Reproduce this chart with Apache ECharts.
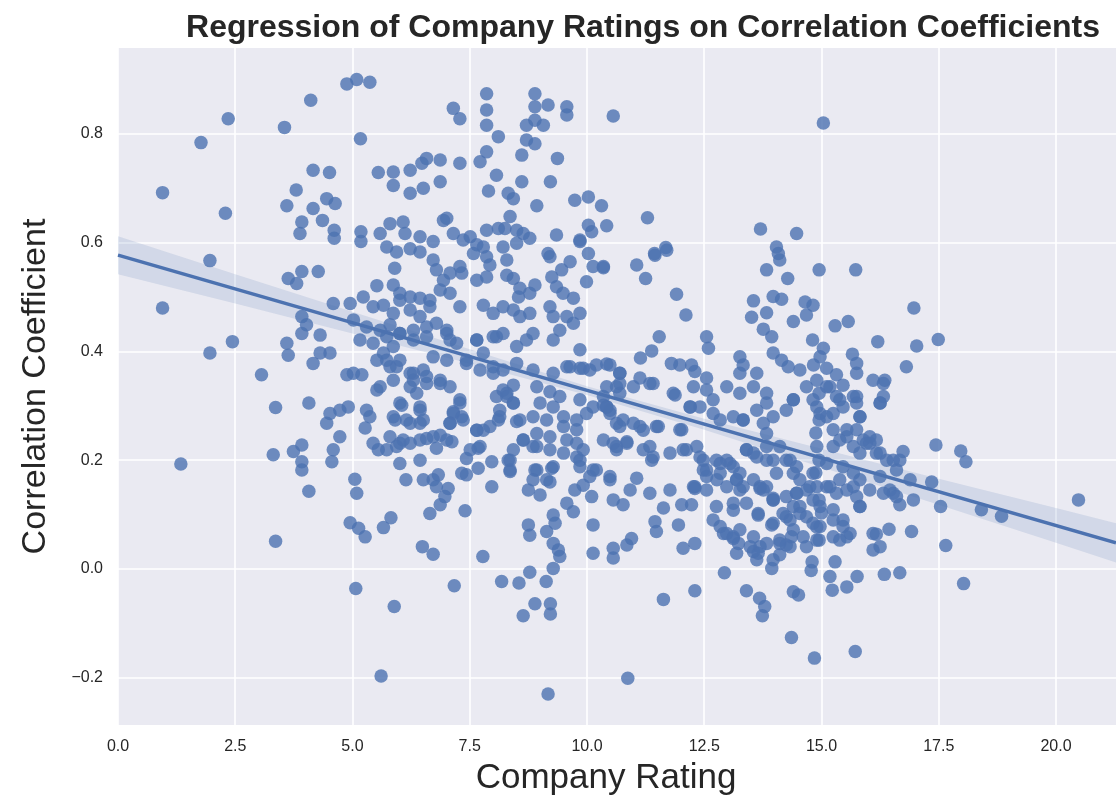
<!DOCTYPE html>
<html>
<head>
<meta charset="utf-8">
<script src="https://cdn.jsdelivr.net/npm/echarts@6/dist/echarts.min.js"></script>
<style>
html,body{margin:0;padding:0;background:#fff;}
#chart{width:1116px;height:801px;}
</style>
</head>
<body>
<div id="chart"></div>
<script>
// ---- Data (Company Rating, Correlation Coefficient) ----
const pointsSparseLeft = [[0.95,0.692],[0.95,0.480],[1.77,0.784],[2.35,0.828],[2.29,0.654],[1.96,0.567],[2.44,0.418],[1.96,0.397],[3.06,0.357],[3.55,0.812],[4.11,0.862],[4.88,0.892],[5.09,0.900],[5.37,0.895],[5.17,0.791],[4.16,0.733],[4.51,0.729],[3.80,0.697],[3.60,0.668],[4.16,0.663],[4.45,0.681],[4.63,0.672],[3.92,0.638],[3.88,0.617],[4.36,0.641],[4.61,0.623],[4.61,0.608],[5.18,0.620],[5.18,0.602],[3.63,0.534],[3.81,0.525],[3.92,0.547],[4.27,0.547],[3.92,0.464],[4.02,0.449],[3.92,0.433],[4.31,0.430],[3.60,0.415],[3.63,0.393],[4.16,0.378],[4.31,0.397],[4.52,0.397],[4.59,0.488],[4.95,0.488],[4.88,0.357],[5.02,0.360],[5.20,0.357],[5.52,0.521]];

const pointsUpperMiddle = [[5.55,0.729],[5.87,0.730],[6.23,0.733],[6.48,0.746],[6.58,0.755],[6.87,0.752],[5.87,0.705],[6.23,0.691],[6.51,0.700],[6.87,0.712],[7.15,0.847],[7.29,0.828],[7.29,0.746],[7.86,0.874],[7.86,0.844],[7.86,0.816],[8.11,0.795],[7.86,0.767],[7.72,0.749],[8.07,0.724],[7.90,0.695],[8.32,0.691],[8.43,0.681],[8.61,0.712],[8.61,0.761],[8.89,0.874],[8.89,0.850],[9.17,0.853],[8.71,0.816],[9.07,0.816],[8.89,0.825],[8.71,0.789],[8.89,0.782],[9.57,0.850],[9.57,0.835],[9.37,0.755],[9.22,0.712],[8.93,0.668],[9.74,0.678],[10.03,0.684],[8.36,0.648],[6.94,0.641],[7.01,0.645],[5.80,0.635],[6.08,0.638],[5.59,0.617],[6.12,0.617],[6.44,0.611],[6.72,0.602],[7.15,0.617],[7.36,0.605],[7.51,0.611],[7.65,0.596],[7.79,0.592],[7.86,0.623],[8.11,0.626],[8.25,0.626],[8.50,0.623],[8.64,0.617],[8.78,0.608],[9.35,0.614],[9.85,0.602],[10.03,0.632],[10.10,0.620],[5.73,0.592],[5.94,0.583],[6.23,0.589],[6.44,0.583],[5.90,0.553],[6.72,0.568],[6.79,0.550],[6.94,0.531],[7.08,0.544],[7.29,0.556],[7.33,0.544],[7.58,0.580],[7.86,0.574],[7.93,0.559],[8.21,0.592],[8.29,0.568],[8.50,0.599],[9.17,0.580],[9.21,0.574],[9.64,0.565],[9.85,0.605],[10.03,0.580],[10.13,0.556],[9.25,0.537],[9.46,0.550],[9.35,0.519],[9.49,0.507],[9.71,0.498],[9.99,0.528],[8.29,0.540],[8.43,0.534],[8.57,0.516],[8.54,0.500],[8.78,0.507],[8.89,0.522],[7.65,0.531],[7.86,0.537],[5.87,0.522],[6.01,0.507],[6.23,0.500],[6.44,0.498],[6.65,0.494],[6.87,0.513],[7.08,0.507]];

const pointsMiddleBand = [[7.29,0.482],[7.79,0.485],[8.00,0.470],[8.21,0.482],[8.43,0.476],[8.57,0.464],[8.78,0.470],[9.21,0.482],[9.28,0.464],[9.57,0.464],[9.85,0.470],[5.23,0.500],[5.44,0.482],[5.66,0.485],[5.87,0.470],[6.01,0.494],[6.23,0.476],[6.44,0.464],[6.65,0.482],[5.02,0.458],[5.30,0.445],[5.59,0.439],[5.80,0.449],[6.01,0.433],[6.30,0.439],[6.58,0.445],[6.79,0.452],[7.01,0.439],[7.08,0.421],[5.16,0.421],[5.44,0.415],[5.66,0.397],[5.87,0.409],[5.52,0.384],[5.80,0.372],[6.01,0.384],[6.30,0.360],[6.58,0.354],[6.87,0.347],[7.43,0.384],[7.79,0.397],[8.00,0.372],[8.21,0.366],[8.50,0.378],[7.65,0.421],[8.07,0.427],[8.50,0.409],[8.71,0.421],[8.85,0.433],[8.85,0.366],[9.28,0.360],[9.57,0.372],[9.85,0.369],[10.06,0.366],[9.28,0.421],[9.42,0.439],[9.71,0.452],[9.85,0.403],[5.87,0.347],[6.23,0.335]];

const pointsUpperRight = [[10.56,0.833],[15.04,0.820],[10.31,0.668],[10.42,0.631],[10.35,0.554],[11.29,0.646],[11.68,0.591],[11.44,0.580],[11.06,0.559],[11.25,0.534],[11.91,0.505],[12.11,0.467],[11.54,0.427],[11.38,0.401],[11.14,0.388],[10.42,0.377],[10.70,0.360],[11.13,0.351],[11.41,0.341],[11.80,0.378],[11.98,0.375],[12.23,0.375],[12.30,0.363],[12.55,0.351],[12.55,0.427],[12.59,0.406],[13.26,0.390],[13.33,0.375],[13.26,0.360],[13.62,0.360],[13.70,0.625],[14.47,0.617],[14.04,0.592],[14.08,0.580],[14.11,0.568],[13.83,0.550],[14.28,0.534],[14.95,0.550],[15.73,0.550],[13.55,0.493],[13.97,0.501],[14.15,0.496],[13.51,0.463],[13.83,0.471],[13.76,0.441],[13.94,0.427],[14.65,0.491],[14.82,0.485],[14.68,0.467],[14.40,0.455],[15.29,0.447],[15.57,0.455],[16.97,0.480],[14.81,0.421],[15.04,0.406],[14.97,0.390],[15.66,0.395],[15.75,0.378],[15.75,0.360],[16.20,0.418],[17.03,0.410],[17.49,0.422],[16.81,0.372],[16.35,0.347],[13.97,0.397],[14.15,0.384],[14.29,0.372],[14.54,0.366],[14.83,0.375],[15.11,0.369],[15.32,0.357],[15.46,0.338],[10.35,0.556],[11.45,0.577],[11.70,0.586]];

const pointsLowerLeft = [[1.34,0.193],[3.36,0.051],[3.31,0.210],[3.36,0.297],[4.07,0.305],[3.74,0.216],[3.92,0.228],[3.92,0.197],[3.92,0.182],[4.07,0.143],[4.52,0.286],[4.45,0.268],[4.73,0.292],[4.91,0.298],[4.59,0.219],[4.56,0.197],[4.73,0.243],[5.30,0.292],[5.37,0.280],[5.27,0.259],[5.52,0.329],[5.05,0.165],[5.09,0.139],[4.95,0.085],[5.13,0.075],[5.27,0.059],[5.66,0.076],[5.82,0.094],[5.07,-0.036],[5.89,-0.069],[5.61,-0.197],[5.44,0.231],[5.55,0.219],[5.73,0.219],[5.91,0.274],[6.05,0.301],[6.23,0.268],[6.44,0.292],[6.44,0.268],[6.01,0.231],[6.23,0.231],[6.01,0.194],[6.44,0.200],[6.14,0.164],[6.58,0.240],[6.79,0.222],[6.87,0.246],[7.12,0.234],[6.51,0.164],[6.72,0.164],[6.83,0.173],[6.79,0.151],[7.04,0.148],[6.97,0.133],[6.87,0.118],[6.65,0.102],[6.49,0.041],[6.72,0.027],[7.17,-0.031],[7.40,0.107],[7.29,0.305],[7.15,0.289],[7.33,0.280],[7.08,0.268],[7.43,0.203],[7.68,0.222],[7.33,0.176],[7.43,0.173],[7.68,0.185],[7.97,0.197],[8.36,0.179],[8.32,0.200],[7.97,0.151],[7.78,0.023],[7.65,0.255],[7.79,0.255],[8.11,0.274],[8.29,0.323],[8.43,0.305],[8.50,0.271],[8.18,-0.023],[8.55,-0.026],[8.78,-0.006],[9.13,-0.023],[8.64,-0.086],[8.89,-0.064],[9.22,-0.064],[9.22,-0.083],[9.17,-0.230],[8.75,0.145],[9.00,0.136],[8.75,0.081],[8.78,0.062],[9.14,0.069],[9.28,0.099],[9.32,0.084],[9.28,0.047],[9.39,0.035],[9.42,0.023],[9.28,0.001],[8.89,0.182],[9.25,0.185],[9.21,0.160],[9.57,0.121],[9.71,0.105],[9.74,0.145],[9.92,0.154],[10.10,0.133],[10.13,0.081],[10.13,0.029],[9.85,0.200],[10.13,0.182],[8.64,0.237],[8.85,0.225]];

const pointsLowerRight = [[10.87,-0.201],[20.48,0.127],[17.44,0.228],[17.97,0.217],[18.08,0.197],[17.35,0.160],[17.54,0.115],[17.65,0.043],[18.41,0.109],[18.84,0.097],[18.03,-0.027],[16.92,0.069],[16.67,-0.007],[16.34,-0.010],[16.10,0.035],[16.17,0.064],[16.44,0.073],[16.96,0.127],[16.67,0.118],[16.53,0.139],[16.74,0.216],[16.67,0.200],[16.60,0.182],[16.89,0.164],[15.76,-0.014],[15.54,-0.033],[15.23,-0.039],[15.18,-0.014],[15.29,0.013],[14.78,-0.003],[14.80,0.013],[15.72,-0.152],[14.85,-0.164],[14.36,-0.126],[14.51,-0.048],[14.40,-0.042],[13.74,-0.086],[13.79,-0.069],[13.68,-0.054],[13.40,-0.040],[12.93,-0.007],[12.30,-0.040],[11.63,-0.056],[13.94,0.001],[13.97,0.017],[14.11,0.026],[14.25,0.044],[14.36,0.059],[13.62,0.017],[13.55,0.032],[13.19,0.029],[13.23,0.047],[13.12,0.059],[12.91,0.065],[12.05,0.038],[12.30,0.047],[10.56,0.020],[10.56,0.038],[10.85,0.044],[10.95,0.056],[11.48,0.069],[11.45,0.087],[11.95,0.081],[11.34,0.139],[11.63,0.112],[11.77,0.145],[12.02,0.118],[12.23,0.118],[12.30,0.148],[10.49,0.164],[10.56,0.127],[10.77,0.118],[11.06,0.167],[10.92,0.145],[10.35,0.301],[10.49,0.292],[10.70,0.323],[11.13,0.262],[11.52,0.262],[11.34,0.225],[11.38,0.200],[10.85,0.234],[10.63,0.219],[11.77,0.213],[12.02,0.256],[12.20,0.298],[11.88,0.320],[12.12,0.219],[12.41,0.206],[12.48,0.182],[12.55,0.170],[12.30,0.151],[12.77,0.164],[12.84,0.194],[12.98,0.200],[13.12,0.188],[13.26,0.176],[13.33,0.151],[13.12,0.121],[13.19,0.164],[12.69,0.090],[12.84,0.078],[12.98,0.065],[13.12,0.056],[13.26,0.072],[13.48,0.041],[13.65,0.029],[13.83,0.047],[13.55,0.059],[13.69,0.148],[13.65,0.102],[13.94,0.081],[13.97,0.127],[14.18,0.102],[14.33,0.090],[14.47,0.139],[14.54,0.164],[14.75,0.151],[14.82,0.127],[14.97,0.115],[15.18,0.151],[15.39,0.164],[15.54,0.145],[15.82,0.115],[14.11,0.047],[14.33,0.041],[14.61,0.059],[14.90,0.053],[14.97,0.078],[15.25,0.090],[15.46,0.078],[15.54,0.059],[15.25,0.059],[14.82,0.084],[14.68,0.096],[15.82,0.164],[15.68,0.151],[15.46,0.188],[15.25,0.225],[15.39,0.237],[15.75,0.256],[15.89,0.237],[15.96,0.231],[16.03,0.243],[16.17,0.237],[16.25,0.213],[16.46,0.145],[16.60,0.133],[16.53,0.200],[14.40,0.311],[14.68,0.335],[14.82,0.311],[14.97,0.286],[15.18,0.335],[15.39,0.311],[15.25,0.286],[15.68,0.317],[15.75,0.305],[15.82,0.280],[16.32,0.341],[16.32,0.317],[16.25,0.305],[13.33,0.274],[13.65,0.099],[13.97,0.130],[13.69,0.151],[13.40,0.219],[13.55,0.213],[13.83,0.200],[14.04,0.176],[14.25,0.200],[14.47,0.188],[14.25,0.133],[14.40,0.115],[14.54,0.102],[14.68,0.145],[14.82,0.176],[15.11,0.194]];

const pointsDenseCore = [[9.64,0.372],[9.92,0.369],[10.20,0.375],[10.49,0.375],[8.43,0.338],[8.29,0.317],[8.43,0.305],[8.14,0.292],[8.93,0.335],[9.21,0.326],[9.42,0.317],[9.00,0.305],[9.28,0.298],[8.85,0.280],[9.14,0.274],[8.93,0.249],[9.21,0.243],[9.50,0.262],[9.57,0.237],[9.78,0.256],[9.78,0.231],[9.50,0.280],[9.85,0.311],[10.13,0.298],[10.42,0.298],[9.99,0.286],[9.78,0.274],[8.57,0.274],[8.64,0.237],[8.43,0.219],[8.93,0.225],[9.21,0.219],[9.50,0.213],[9.78,0.206],[9.92,0.219],[9.85,0.188],[10.20,0.182],[10.49,0.170],[10.06,0.170],[9.28,0.188],[8.93,0.182],[8.85,0.164],[9.14,0.164],[8.36,0.200],[8.36,0.182],[10.35,0.237],[10.63,0.225],[10.63,0.268],[10.49,0.286],[10.77,0.274],[10.35,0.317],[10.63,0.335],[10.70,0.360],
[14.90,0.347],[14.95,0.323],[14.90,0.298],[14.95,0.274],[14.88,0.250],[14.90,0.225],[14.95,0.200],[14.88,0.177],[14.90,0.151],[14.95,0.127],[15.00,0.103],[14.90,0.077],[14.95,0.053],[15.11,0.335],[15.32,0.317],[15.46,0.298],[15.11,0.280],[15.25,0.256],[15.54,0.243],[15.68,0.225],[15.82,0.213],[16.03,0.231],[16.17,0.213],[16.39,0.200],[13.83,0.305],[13.97,0.280],[13.83,0.249],[14.25,0.292],[14.40,0.311],[14.11,0.225],[13.97,0.200],[14.33,0.200],[14.40,0.176],[13.83,0.151],[13.97,0.127],[14.47,0.139],[14.54,0.115],[14.25,0.096],[13.97,0.084],[14.40,0.072],[14.68,0.041],[14.11,0.053],[13.69,0.041],[15.11,0.151],[15.32,0.139],[15.25,0.109],[15.46,0.090],[15.61,0.065],[15.39,0.053],[15.82,0.115],[15.75,0.133],[16.03,0.145],[16.25,0.170],[16.32,0.139],[16.10,0.065],[16.25,0.041],[15.68,0.176],[15.75,0.317],[16.10,0.347],[16.25,0.305],[15.82,0.280],[15.54,0.256],
[5.73,0.427],[6.01,0.433],[6.30,0.421],[6.58,0.427],[7.01,0.433],[7.22,0.415],[7.65,0.421],[8.00,0.427],[8.21,0.433],[5.73,0.384],[5.94,0.372],[6.23,0.360],[6.51,0.366],[6.72,0.390],[7.01,0.384],[7.43,0.378],[7.72,0.366],[8.00,0.360],[6.30,0.347],[6.58,0.341],[6.87,0.341],[7.08,0.335],[6.37,0.323],[5.59,0.335],[6.01,0.305],[6.44,0.298],[5.87,0.280],[6.15,0.274],[6.51,0.274],[5.80,0.243],[6.08,0.237],[6.44,0.237],[6.72,0.243],[7.01,0.237],[5.94,0.225],[7.29,0.311],[7.15,0.286],[7.36,0.274],[7.08,0.268],[7.65,0.255],[7.93,0.262],[8.14,0.280],[8.07,0.317],[8.21,0.329],[7.72,0.225],[7.51,0.219],
[10.42,0.335],[10.70,0.341],[10.99,0.335],[11.34,0.341],[11.84,0.323],[12.27,0.335],[12.55,0.329],[12.69,0.311],[12.98,0.335],[13.26,0.323],[13.55,0.335],[13.83,0.323],[10.42,0.298],[10.70,0.262],[10.99,0.268],[11.20,0.255],[11.48,0.262],[10.56,0.231],[10.85,0.231],[11.20,0.219],[11.41,0.206],[11.98,0.256],[12.20,0.298],[12.41,0.298],[12.69,0.286],[12.84,0.274],[13.12,0.280],[13.33,0.274],[13.62,0.292],[13.76,0.268],[12.05,0.219],[12.34,0.225],[12.48,0.200],[12.55,0.182],[12.76,0.200],[12.84,0.176],[13.05,0.194],[13.19,0.164],[13.40,0.219],[13.62,0.206],[13.83,0.225],[12.27,0.151],[12.55,0.145],[12.98,0.151],[13.26,0.145],[13.55,0.164],[13.76,0.145],[12.76,0.115],[13.12,0.108],[13.40,0.121]];

// Fitted regression line (endpoints) and its confidence band
const regressionLine = [[0, 0.577], [21.28, 0.048]];
const bandX     = [0,     2.5,   5,     7.5,   10,    12.5,  15,    17.5,  20,    21.28];
const bandLower = [0.542, 0.488, 0.433, 0.378, 0.320, 0.256, 0.187, 0.118, 0.048, 0.012];
const bandUpper = [0.612, 0.542, 0.473, 0.404, 0.336, 0.276, 0.221, 0.166, 0.112, 0.084];

// Axes
const xTicks = [0, 2.5, 5, 7.5, 10, 12.5, 15, 17.5, 20];
const yTicks = [-0.2, 0, 0.2, 0.4, 0.6, 0.8];
const xRange = [0, 21.28];
const yRange = [-0.287, 0.958];

const titleText = 'Regression of Company Ratings on Correlation Coefficients';
const xLabel = 'Company Rating';
const yLabel = 'Correlation Coefficient';

// ---- Build ----
const allPoints = [].concat(pointsSparseLeft, pointsUpperMiddle, pointsMiddleBand,
  pointsUpperRight, pointsLowerLeft, pointsLowerRight, pointsDenseCore);
const bandRows = bandX.map((x, i) => [x, bandLower[i], bandUpper[i]]);

const FONT = '"Liberation Sans", Arial, Helvetica, sans-serif';
const BLUE = '#4C72B0';

const chart = echarts.init(document.getElementById('chart'), null, {renderer: 'canvas'});
chart.setOption({
  animation: false,
  backgroundColor: '#ffffff',
  title: {
    text: titleText,
    left: 638,
    textAlign: 'center',
    top: 7,
    textStyle: {fontFamily: FONT, fontWeight: 'bold', fontSize: 32, color: '#262626'}
  },
  grid: {
    left: 118, right: 0, top: 48, bottom: 76,
    show: true, backgroundColor: '#EAEAF2', borderWidth: 0
  },
  xAxis: {
    type: 'value',
    min: xRange[0], max: xRange[1],
    name: xLabel,
    nameLocation: 'middle',
    nameGap: 36,
    nameTextStyle: {fontFamily: FONT, fontSize: 35, color: '#262626', padding: [0, 22, 0, 0]},
    axisLine: {show: false},
    axisTick: {show: false, customValues: xTicks},
    axisLabel: {
      customValues: xTicks,
      formatter: v => v.toFixed(1),
      fontFamily: FONT, fontSize: 16, color: '#262626', margin: 14
    },
    splitLine: {show: true, lineStyle: {color: '#ffffff', width: 1.6}}
  },
  yAxis: {
    type: 'value',
    min: yRange[0], max: yRange[1],
    name: yLabel,
    nameLocation: 'middle',
    nameRotate: 90,
    nameGap: 65,
    nameTextStyle: {fontFamily: FONT, fontSize: 34, color: '#262626'},
    axisLine: {show: false},
    axisTick: {show: false, customValues: yTicks},
    axisLabel: {
      customValues: yTicks,
      formatter: v => v.toFixed(1).replace('-', '\u2212'),
      fontFamily: FONT, fontSize: 16, color: '#262626', margin: 15
    },
    splitLine: {show: true, lineStyle: {color: '#ffffff', width: 1.6}}
  },
  series: [
    {
      type: 'scatter',
      data: allPoints,
      symbol: 'circle',
      symbolSize: 13.5,
      itemStyle: {color: BLUE, opacity: 0.8},
      z: 2
    },
    {
      type: 'custom',
      data: bandRows,
      encode: {x: 0, y: [1, 2]},
      z: 3,
      silent: true,
      renderItem: function (params, api) {
        if (params.dataIndex !== 0) return;
        const up = bandRows.map(r => api.coord([r[0], r[2]]));
        const lo = bandRows.slice().reverse().map(r => api.coord([r[0], r[1]]));
        return {
          type: 'polygon',
          shape: {points: up.concat(lo)},
          style: {fill: BLUE, opacity: 0.15}
        };
      }
    },
    {
      type: 'line',
      data: regressionLine,
      showSymbol: false,
      lineStyle: {color: BLUE, width: 3.5},
      z: 4,
      silent: true
    }
  ]
});
</script>
</body>
</html>
